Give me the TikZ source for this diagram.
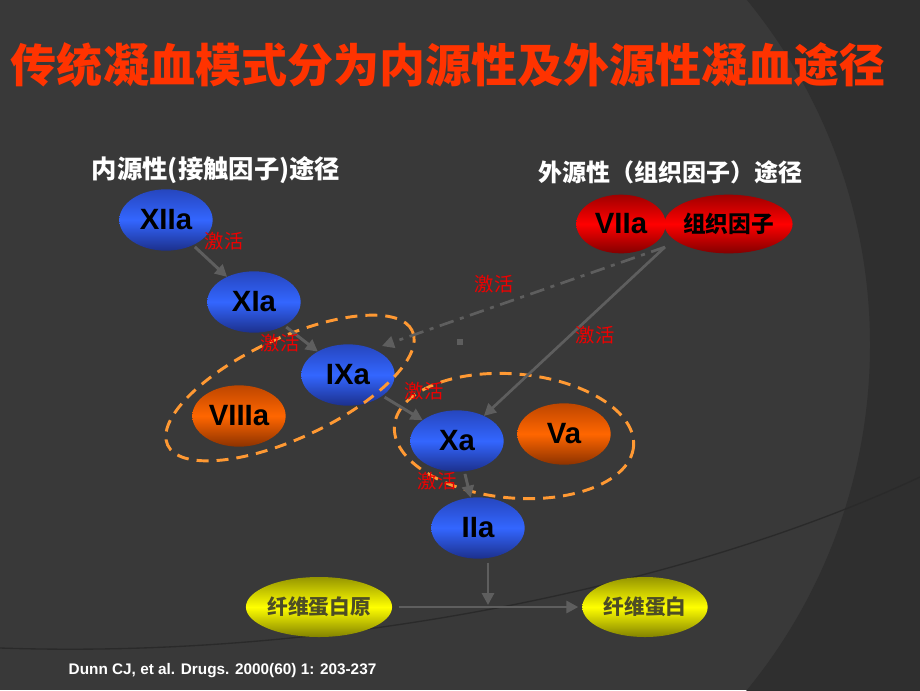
\documentclass[tikz,border=0pt]{standalone}
\usepackage{fontspec}
\setmainfont{Liberation Sans}
\newfontfamily\cjk{Noto Sans CJK SC}
\usepackage{tikz}
\usetikzlibrary{positioning, arrows.meta, shapes.geometric}
\definecolor{slidebg}{HTML}{393939}
\definecolor{slidedark}{HTML}{2F2F2F}
\definecolor{titlered}{HTML}{FF3300}
\definecolor{actred}{HTML}{F00000}
\definecolor{arrowgray}{HTML}{5E5E5E}
\definecolor{grouporange}{HTML}{FF9933}
\definecolor{fibertext}{HTML}{4D4D26}
\tikzset{
	x=0.75pt, y=-0.75pt,
	factor/.style={
		ellipse,
		inner sep=0pt,
		outer sep=0pt,
		minimum width=70pt,
		minimum height=46pt,
		font=\fontsize{22}{24}\selectfont\bfseries
	},
	blue factor/.style={factor, top color={rgb,255:red,38;green,70;blue,190}, bottom color={rgb,255:red,28;green,48;blue,140}, middle color={rgb,255:red,51;green,102;blue,255}},
	orange factor/.style={factor, top color={rgb,255:red,190;green,70;blue,0}, bottom color={rgb,255:red,140;green,50;blue,0}, middle color={rgb,255:red,255;green,102;blue,0}},
	red factor/.style={factor, top color={rgb,255:red,160;green,0;blue,0}, bottom color={rgb,255:red,130;green,0;blue,0}, middle color={rgb,255:red,255;green,0;blue,0}},
	yellow factor/.style={factor, minimum width=94pt, minimum height=45pt, top color={rgb,255:red,150;green,150;blue,0}, bottom color={rgb,255:red,130;green,130;blue,0}, middle color={rgb,255:red,255;green,255;blue,0}, text=fibertext, font=\cjk\fontsize{15.5}{17}\selectfont\bfseries},
	edge/.style={
		-{Triangle[length=9pt,width=9pt]},
		draw=arrowgray,
		line width=2.2pt
	},
	group/.style={
		draw=grouporange,
		line width=2.2pt,
		dash pattern=on 9pt off 6pt
	},
	act/.style={
		text=actred,
		font=\cjk\fontsize{14.5}{16}\selectfont
	},
	heading/.style={
		text=white,
		font=\cjk\fontsize{19}{21}\selectfont\bfseries
	}
}

\begin{document}
\begin{tikzpicture}
\useasboundingbox (0,0) rectangle (920,690);
\begin{scope}
\clip (0,0) rectangle (920,690);
\fill[slidebg] (0,0) rectangle (920,690);
\fill[slidedark, even odd rule] (-300,-300) rectangle (1200,1000) (325,345) circle [radius=545];
\draw[slidedark!90!black, line width=1pt] (0,648) .. controls (350,660) and (700,580) .. (920,477);
\end{scope}

\node[text=titlered, font=\cjk\fontsize{34.5}{37}\selectfont\bfseries] (title) at (448,65) {传统凝血模式分为内源性及外源性凝血途径};
\node[heading] (intr) at (216,170) {内源性(接触因子)途径};
\node[heading, font=\cjk\fontsize{18}{20}\selectfont\bfseries] (extr) at (670,172) {外源性（组织因子）途径};

\node[blue factor] (xiia) at (166,220) {XIIa};
\node[blue factor] (xia) at (254,302) {XIa};
\node[blue factor] (ixa) at (348,375) {IXa};
\node[orange factor] (viiia) at (239,416) {VIIIa};
\node[blue factor] (xa) at (457,441) {Xa};
\node[orange factor] (va) at (564,434) {Va};
\node[blue factor] (iia) at (478,528) {IIa};
\node[red factor, minimum width=67pt, minimum height=44pt] (viia) at (621,224) {VIIa};
\node[red factor, minimum width=90pt, minimum height=44pt, font=\cjk\fontsize{17}{19}\selectfont\bfseries, right=-1pt of viia] (tf) {组织因子};
\node[yellow factor] (fbg) at (319,607) {纤维蛋白原};
\node[yellow factor] (fb) at (645,607) {纤维蛋白};

\draw[group, rotate around={25:(290,388)}] (290,388) ellipse [x radius=135, y radius=50];
\draw[group, rotate around={-5:(514,436)}] (514,436) ellipse [x radius=120, y radius=62];

\coordinate (src) at (665,247);
\coordinate (ixin) at (382,346);
\coordinate (join) at (488,605);

\draw[edge, shorten <=2pt] (xiia) -- (xia);
\draw[edge, shorten <=2pt] (xia) -- (ixa);
\draw[edge, shorten <=2pt] (ixa) -- (xa);
\draw[edge, shorten <=2pt] (xa) -- (iia);
\draw[edge, line width=2pt] (src) -- (xa);
\draw[edge, line width=2pt, dash pattern=on 11pt off 5pt on 3pt off 5pt] (src) -- (ixin);
\fill[arrowgray] (457,339) rectangle (463,345);
\draw[edge, shorten <=5pt, shorten >=3pt] (fbg) -- (fb);
\draw[edge, shorten <=3pt] (join |- iia.south) -- (join);

\node[act] (act1) at (224,241) {激活};
\node[act] (act2) at (280,343) {激活};
\node[act] (act3) at (494,284) {激活};
\node[act] (act4) at (595,335) {激活};
\node[act] (act5) at (424,391) {激活};
\node[act] (act6) at (437,481) {激活};

\node[anchor=west, text=white, font=\fontsize{11.5}{13}\selectfont\bfseries] (ref) at (64,671) {Dunn CJ, et al. Drugs. 2000(60) 1: 203-237};
\end{tikzpicture}
\end{document}
